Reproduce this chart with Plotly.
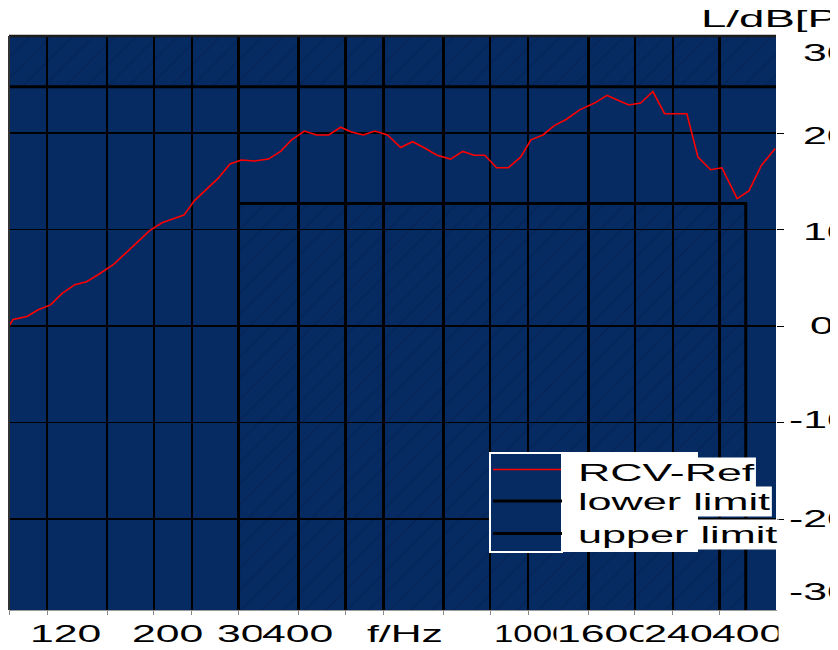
import math
import json
import plotly.graph_objects as go

# ---------------- data ----------------
freq_hz = [100, 102, 109, 115, 122, 129, 137, 145, 154, 165,
           184, 196, 208, 219, 231, 243, 257, 272, 288, 304,
           324, 346, 367, 387, 411, 436, 462, 489, 515, 545,
           576, 612, 652, 690, 728, 776, 828, 877, 927, 975,
           1032, 1091, 1157, 1216, 1288, 1362, 1439, 1535, 1649, 1750,
           1844, 1943, 2056, 2180, 2306, 2436, 2565, 2705, 2874, 3033,
           3264, 3451, 3660, 3915]
rcv_ref_db = [0.0, 0.7, 1.0, 1.7, 2.2, 3.4, 4.3, 4.6, 5.4, 6.4,
              8.6, 9.9, 10.7, 11.1, 11.5, 13.0, 14.1, 15.3, 16.8, 17.2,
              17.1, 17.3, 18.1, 19.3, 20.2, 19.8, 19.8, 20.6, 20.1, 19.8,
              20.2, 19.8, 18.5, 19.1, 18.5, 17.7, 17.3, 18.1, 17.7, 17.7,
              16.4, 16.4, 17.5, 19.3, 19.8, 20.8, 21.4, 22.4, 23.1, 23.9,
              23.4, 22.9, 23.1, 24.3, 22.0, 22.0, 22.0, 17.5, 16.2, 16.4,
              13.2, 14.0, 16.6, 18.4]

lower_freq = [300, 300, 3400, 3400]
lower_db = [-40, 12.7, 12.7, -40]
upper_freq = [100, 3930]
upper_db = [24.8, 24.8]

series_names = ["RCV-Ref", "lower limit", "upper limit"]

grid_freqs = [100, 120, 160, 200, 240, 300, 400, 500, 600, 800,
              1000, 1200, 1600, 2000, 2400, 3000]
y_grid = [-20, -10, 0, 10, 20]

x_labels = ["120", "200", "300", "400", "f/Hz", "1000", "1600", "2400", "4000"]
y_labels = ["30", "20", "10", "0", "-10", "-20", "-30"]
y_title = "L/dB[Pa/V]"

X_MIN, X_MAX = 100, 3930
Y_MIN, Y_MAX = -29.4, 30.05

# ---------------- styling / layout helpers ----------------
NAVY = "#062A62"
FONT = "Liberation Sans, Arial, sans-serif"
W, H = 838, 650
OFF = 8                       # page body offset of the figure
PL, PR, PT, PB = 1, 768, 28, 602   # plot area in figure pixels


def px(x_page):
    return (x_page - OFF - PL) / (PR - PL)


def py(y_page):
    return (PB - (y_page - OFF)) / (PB - PT)


hatch = dict(shape="/", fgcolor="rgba(0,0,0,0.30)", size=15, solidity=0.07)

fig = go.Figure()

# hatched forbidden areas
fig.add_trace(go.Scatter(
    x=[upper_freq[0], upper_freq[-1], upper_freq[-1], upper_freq[0]],
    y=[upper_db[-1], upper_db[0], Y_MAX, Y_MAX],
    fill="toself", mode="none", fillcolor="rgba(0,0,0,0)",
    fillpattern=hatch, hoverinfo="skip", showlegend=False))
fig.add_trace(go.Scatter(
    x=lower_freq, y=lower_db,
    fill="toself", mode="none", fillcolor="rgba(0,0,0,0)",
    fillpattern=hatch, hoverinfo="skip", showlegend=False))

# limit lines
fig.add_trace(go.Scatter(x=lower_freq, y=lower_db, mode="lines",
                         name=series_names[1],
                         line=dict(color="black", width=3)))
fig.add_trace(go.Scatter(x=upper_freq, y=upper_db, mode="lines",
                         name=series_names[2],
                         line=dict(color="black", width=3)))
# measured curve
fig.add_trace(go.Scatter(x=freq_hz, y=rcv_ref_db, mode="lines",
                         name=series_names[0],
                         line=dict(color="#FF0000", width=1.6)))

fig.update_xaxes(type="log", range=[math.log10(X_MIN), math.log10(X_MAX)],
                 tickvals=grid_freqs, showticklabels=False,
                 showgrid=True, gridcolor="black", gridwidth=2.6,
                 ticks="outside", ticklen=4, tickcolor="#888", tickwidth=1,
                 showline=True, linecolor="#9a9a9a", linewidth=1,
                 zeroline=False, fixedrange=True)
fig.update_yaxes(range=[Y_MIN, Y_MAX], side="right",
                 tickvals=y_grid, showticklabels=False,
                 showgrid=True, gridcolor="black", gridwidth=1.6,
                 ticks="outside", ticklen=7, tickcolor="black", tickwidth=1,
                 showline=True, linecolor="white", linewidth=1,
                 zeroline=False, fixedrange=True)

shapes = [
    # dark frame on top and left
    dict(type="line", xref="paper", yref="paper", x0=0, x1=1, y0=1, y1=1,
         line=dict(color="#1c1c1c", width=2.5), layer="above"),
    dict(type="line", xref="paper", yref="paper", x0=0, x1=0, y0=0, y1=1,
         line=dict(color="#333", width=2), layer="above"),
    # legend: symbol box and white text panel
    dict(type="rect", xref="paper", yref="paper",
         x0=px(490), x1=px(562), y0=py(552), y1=py(453),
         fillcolor=NAVY, line=dict(color="white", width=2), layer="above"),
    dict(type="rect", xref="paper", yref="paper",
         x0=px(563), x1=px(698), y0=py(552), y1=py(452),
         fillcolor="white", line=dict(width=0), layer="above"),
    dict(type="line", xref="paper", yref="paper",
         x0=px(493), x1=px(561), y0=py(469.5), y1=py(469.5),
         line=dict(color="#FF0000", width=1.4), layer="above"),
    dict(type="line", xref="paper", yref="paper",
         x0=px(493), x1=px(562), y0=py(501), y1=py(501),
         line=dict(color="black", width=3), layer="above"),
    dict(type="line", xref="paper", yref="paper",
         x0=px(493), x1=px(562), y0=py(533.5), y1=py(533.5),
         line=dict(color="black", width=3), layer="above"),
]

annotations = []
lab_font = dict(family=FONT, size=24, color="black")

# x tick labels (left edges in page pixels)
x_lab_left = [29, 131, 216, 261, 366, 493, 556, 643, 711]
for txt, lx in zip(x_labels, x_lab_left):
    annotations.append(dict(text=txt, xref="paper", yref="paper",
                            x=px(lx), y=py(633), xanchor="left", yanchor="middle",
                            align="left", showarrow=False, font=lab_font,
                            bgcolor="white", borderpad=0))
# clip the last x label at the plot edge
annotations.append(dict(text=" ", xref="paper", yref="paper",
                        x=px(777.5), y=py(633), xanchor="left", yanchor="middle",
                        width=70, height=34, showarrow=False, bgcolor="white",
                        font=lab_font, borderpad=0))

# y tick labels (right side, clipped by the page edge)
y_lab_left = [802, 802, 802, 809, 788, 788, 788]
y_lab_mid = [53, 135, 231, 325, 419, 518, 591]
for txt, lx, my in zip(y_labels, y_lab_left, y_lab_mid):
    annotations.append(dict(text=txt, xref="paper", yref="paper",
                            x=px(lx), y=py(my), xanchor="left", yanchor="middle",
                            align="left", showarrow=False, font=lab_font,
                            borderpad=0))

annotations.append(dict(text=y_title, xref="paper", yref="paper",
                        x=px(700), y=py(19), xanchor="left", yanchor="middle",
                        align="left", showarrow=False, font=lab_font, borderpad=0))

# legend texts
leg_mid = [472, 501, 534]
for txt, my in zip(series_names, leg_mid):
    annotations.append(dict(text=txt, xref="paper", yref="paper",
                            x=px(576), y=py(my), xanchor="left", yanchor="middle",
                            align="left", showarrow=False, font=lab_font,
                            bgcolor="white", borderpad=1))

fig.update_layout(width=W, height=H,
                  margin=dict(l=PL, r=W - PR, t=PT, b=H - PB, pad=0),
                  paper_bgcolor="white", plot_bgcolor=NAVY,
                  showlegend=False, shapes=shapes, annotations=annotations,
                  font=dict(family=FONT))

# horizontal widening of the label glyphs, like the original renderer
stretch = {"RCV-Ref": 1.86, "lower limit": 1.8, "upper limit": 1.8,
           y_title: 1.9, "1000": 1.45, "2400": 1.72}
post = """
var gd = document.getElementById('{plot_id}');
var KS = %s;
gd.querySelectorAll('g.annotation').forEach(function(g){
  var t = g.querySelector('text.annotation-text');
  var r = g.querySelector('rect.bg');
  if(!t || !t.textContent.trim()) return;
  var K = KS[t.textContent] || 1.78;
  var w = t.getComputedTextLength();
  var nw = w * K;
  t.setAttribute('textLength', nw);
  t.setAttribute('lengthAdjust', 'spacingAndGlyphs');
  if(r){ r.setAttribute('width', parseFloat(r.getAttribute('width')) + nw - w); }
});
""" % json.dumps(stretch)

fig.write_html("out.html", config={"displayModeBar": False, "staticPlot": True},
               post_script=post)
